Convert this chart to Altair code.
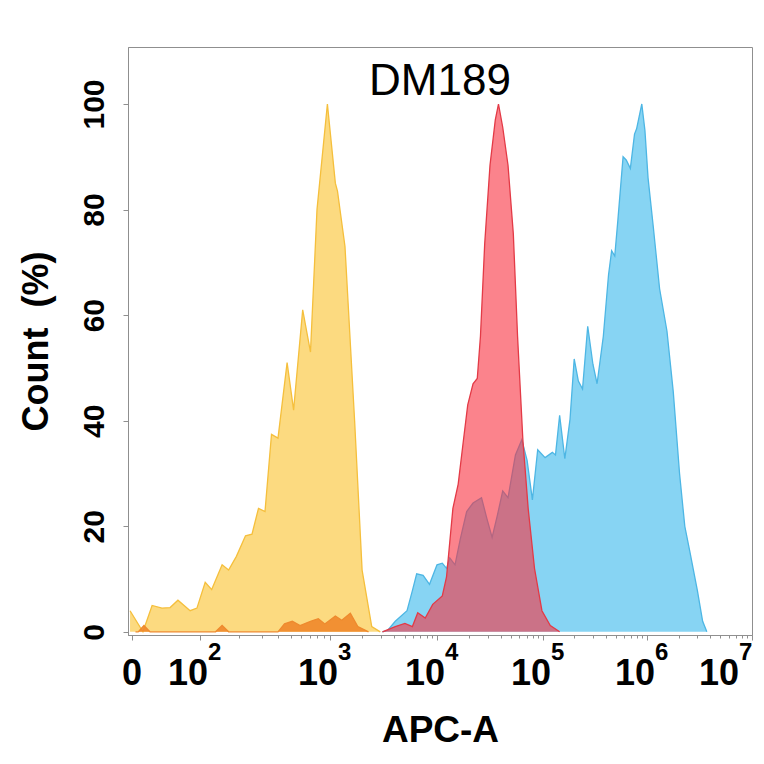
import math
import altair as alt
import pandas as pd

# ---- axis definitions (decade units: 0 -> "0", 2 -> 10^2, ... 7 -> 10^7)
x_tick_values = [0, 2, 3, 4, 5, 6, 7]
zero_label = "0"
decade_base = "10"
decade_values = [2, 3, 4, 5, 6]
decade_exps = ["2", "3", "4", "5", "6"]
last_value = 7
last_exp = "7"
y_tick_values = [0, 20, 40, 60, 80, 100]

# ---- series (x in decade units, y in % of max count)
yellow_x = [-0.06, 0.32, 0.59, 0.88, 1.12, 1.35, 1.71, 1.91, 2.04, 2.09, 2.17, 2.22, 2.28,
            2.35, 2.40, 2.45, 2.50, 2.55, 2.60, 2.67, 2.72, 2.79, 2.85, 2.90, 2.98, 3.05,
            3.07, 3.14, 3.23, 3.30, 3.39, 3.47]
yellow_y = [4, 0, 5, 4.5, 4.6, 6, 4, 4.5, 9.4, 8, 12.7, 11.7, 14.3,
            18.2, 18.5, 23.4, 22.8, 37.4, 36.7, 51, 42, 61, 53, 80, 100, 85,
            83.5, 73, 40, 11.7, 1, 0]

orange_x = [0.10, 0.18, 0.35, 0.53, 2.12, 2.17, 2.22, 2.60, 2.65, 2.71, 2.77, 2.85, 2.91,
            2.96, 3.05, 3.11, 3.19, 3.26, 3.36]
orange_y = [0, 0, 1.2, 0, 0, 1.2, 0, 0, 1.5, 2, 1.2, 2, 2.5,
            1.5, 3, 2.2, 3.5, 1, 0]

blue_x = [3.49, 3.54, 3.61, 3.72, 3.77, 3.81, 3.87, 3.93, 4.00, 4.05, 4.09, 4.12, 4.17,
          4.22, 4.28, 4.34, 4.42, 4.47, 4.52, 4.57, 4.62, 4.67, 4.74, 4.80, 4.85, 4.90,
          4.95, 5.02, 5.09, 5.12, 5.16, 5.21, 5.26, 5.30, 5.34, 5.38, 5.43, 5.48, 5.52,
          5.58, 5.63, 5.66, 5.69, 5.72, 5.77, 5.80, 5.84, 5.88, 5.90, 5.95, 5.98, 6.01,
          6.06, 6.12, 6.19, 6.25, 6.31, 6.36, 6.41, 6.48, 6.53, 6.57]
blue_y = [0, 0.3, 2, 4, 7.8, 11, 10.7, 9, 12.7, 13, 12, 14, 12.7,
          17.6, 22.8, 24.4, 25.4, 21.5, 17.9, 22.1, 26.7, 25.4, 33.5, 36.4, 32.5, 25,
          34.5, 33, 34, 33.5, 41, 32.8, 40.3, 51.7, 47.5, 46, 57.9, 50.7, 47,
          56, 67.6, 72.2, 71.2, 78, 90, 89.4, 87.8, 94.3, 95.3, 100, 95, 86,
          76.7, 65, 57, 45.5, 30, 20, 15, 7.8, 2, 0]

red_x = [3.49, 3.61, 3.70, 3.77, 3.82, 3.89, 3.96, 4.05,
         4.09, 4.15, 4.20, 4.25, 4.29, 4.34, 4.38, 4.41, 4.45, 4.50, 4.55, 4.58, 4.62,
         4.67, 4.72, 4.76, 4.81, 4.86, 4.92, 4.99, 5.07, 5.16]
red_y = [0, 1, 1.6, 1, 3.6, 2.6, 5.2, 6.8,
         10.4, 23.4, 28, 36.4, 43, 47, 48, 56, 73.5, 88.4, 97, 100, 95.6,
         88.4, 75.4, 56, 36.4, 23.4, 12, 4, 1.2, 0]

series = [
    ("yellow", yellow_x, yellow_y, "#FCDA80", "#F5BF3C", 1.0),
    ("orange", orange_x, orange_y, "#F0872A", "#EE8A2E", 0.9),
    ("blue", blue_x, blue_y, "#87D4F3", "#4DB6E4", 1.0),
    ("red", red_x, red_y, "#F8303F", "#E33A46", 0.6),
]

FONT = "Liberation Sans"
GREY = "#8f8f8f"
Y_MIN, Y_MAX = -0.6, 110.8

x_scale = alt.Scale(domain=[-0.12, 2, 3, 4, 5, 6, 7],
                    range=[0, 72, 202, 309, 415, 519, 624])
y_scale = alt.Scale(domain=[Y_MIN, Y_MAX], nice=False, zero=False)

y_axis = alt.Axis(values=y_tick_values, title="Count\u00a0 (%)")
minor_x = [k + math.log10(m) for k in range(2, 7) for m in range(2, 10)]


def yenc(field="count:Q"):
    return alt.Y(field, scale=y_scale, axis=y_axis)


layers = []
for i, (name, xs, ys, fill, stroke, op) in enumerate(series):
    df = pd.DataFrame({"pos": xs, "count": ys, "sample": name})
    xax = alt.Axis(values=x_tick_values, labels=False, title="APC-A", orient="bottom") if i == 0 else None
    layers.append(
        alt.Chart(df).mark_area(
            fill=fill, fillOpacity=op, clip=True, interpolate="linear",
            line=alt.OverlayMarkDef(color=stroke, strokeWidth=1.3, clip=True),
        ).encode(x=alt.X("pos:Q", scale=x_scale, axis=xax), y=yenc())
    )

# minor ticks on the x axis
minor_df = pd.DataFrame({"pos": minor_x, "count": [0] * len(minor_x)})
layers.append(alt.Chart(minor_df).mark_point(opacity=0).encode(
    x=alt.X("pos:Q", scale=x_scale,
            axis=alt.Axis(values=minor_x, labels=False, title=None, tickSize=3,
                          domain=False, orient="bottom", tickColor=GREY)),
    y=yenc(),
))

# x tick labels: "0", "10" bases and superscript exponents
lab_font = 36
exp_font = 24
lab_df = pd.DataFrame({"pos": decade_values, "base": [decade_base] * len(decade_values),
                       "exp": decade_exps, "count": [Y_MIN] * len(decade_values)})
last_df = pd.DataFrame({"pos": [last_value], "base": [decade_base], "exp": [last_exp],
                        "count": [Y_MIN]})
zero_df = pd.DataFrame({"pos": [0], "base": [zero_label], "count": [Y_MIN]})


def text_layer(df, field, size, dx, dy, align):
    return alt.Chart(df).mark_text(
        font=FONT, fontWeight="bold", fontSize=size, color="black",
        align=align, baseline="alphabetic", dx=dx, dy=dy,
    ).encode(x=alt.X("pos:Q", scale=x_scale, axis=None), y=yenc(), text=f"{field}:N")


layers += [
    text_layer(zero_df, "base", lab_font, 0, 50, "center"),
    text_layer(lab_df, "base", lab_font, -12, 50, "center"),
    text_layer(lab_df, "exp", exp_font, 8, 25, "left"),
    text_layer(last_df, "base", lab_font, -33, 50, "center"),
    text_layer(last_df, "exp", exp_font, -13, 25, "left"),
]

chart = alt.layer(*layers).resolve_axis(x="independent").properties(
    width=624,
    height=588,
    autosize=alt.AutoSizeParams(type="none"),
    padding={"left": 120, "top": 39, "right": 4, "bottom": 121},
    title=alt.TitleParams("DM189", fontSize=44, font=FONT, fontWeight="normal",
                          color="black", offset=-57, anchor="middle"),
).configure_view(
    stroke=GREY, strokeWidth=1
).configure_axis(
    grid=False, domainColor=GREY, tickColor=GREY, tickSize=5,
    labelFont=FONT, labelFontWeight="bold", labelColor="black",
    titleFont=FONT, titleFontWeight="bold", titleColor="black",
).configure_axisX(
    titleFontSize=37, titlePadding=72,
).configure_axisY(
    labelFontSize=30, labelAngle=270, labelAlign="center", labelBaseline="bottom",
    labelPadding=14, titleFontSize=36, titlePadding=24,
)

chart.save("out.html", embed_options={"renderer": "svg", "actions": False})
